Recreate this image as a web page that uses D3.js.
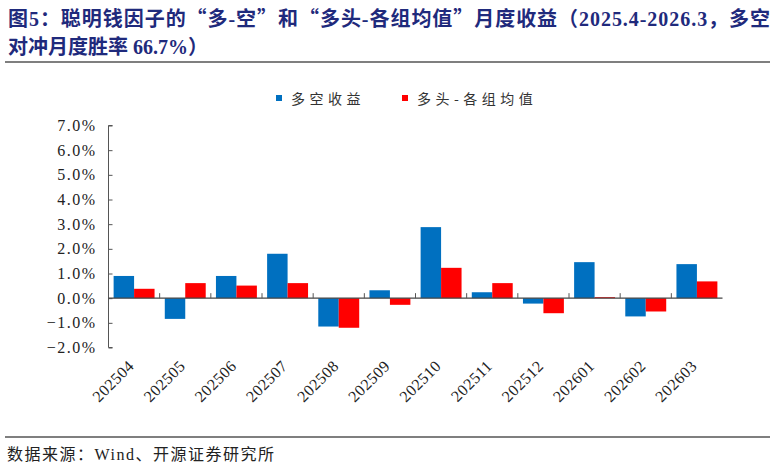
<!DOCTYPE html>
<html>
<head>
<meta charset="utf-8">
<script src="https://cdn.jsdelivr.net/npm/d3@7"></script>
<style>
  body { margin: 0; background: #fff; }
  svg { display: block; }
</style>
</head>
<body>
<svg id="chart"></svg>
<script>
const width = 774;
const height = 468;

const months = ["202504", "202505", "202506", "202507", "202508", "202509",
  "202510", "202511", "202512", "202601", "202602", "202603"];
const longShort = [0.90, -0.84, 0.90, 1.80, -1.15, 0.32, 2.88, 0.24, -0.22, 1.46, -0.74, 1.38];
const longAvg = [0.38, 0.61, 0.51, 0.61, -1.20, -0.27, 1.23, 0.61, -0.61, 0.04, -0.54, 0.68];
const seriesNames = ["多空收益", "多头-各组均值"];
const yTicks = [-2, -1, 0, 1, 2, 3, 4, 5, 6, 7];

const serif = "'Liberation Serif', 'Times New Roman', 'Noto Sans CJK SC', serif";
const cjk = "'Noto Sans CJK SC', 'Liberation Serif', sans-serif";

const svg = d3.select("#chart")
  .attr("width", width)
  .attr("height", height)
  .style("background", "#fff");

// title: serif text, but the curly quotes drawn full width with the CJK font
const titleColor = "#1f2a7c";
function titleLine(str, yPos, len) {
  const t = svg.append("text")
    .attr("x", 8).attr("y", yPos)
    .attr("fill", titleColor)
    .style("font-family", serif)
    .style("font-weight", "bold")
    .style("font-size", "20px");
  if (len) t.attr("textLength", len).attr("lengthAdjust", "spacing");
  str.split(/([“”])/).filter(s => s.length).forEach(s => {
    t.append("tspan")
      .style("font-family", /[“”]/.test(s) ? cjk : serif)
      .text(s);
  });
}
titleLine("图5：聪明钱因子的“多-空”和“多头-各组均值”月度收益（2025.4-2026.3，多空", 26, 762);
titleLine("对冲月度胜率 66.7%）", 54);

svg.append("line")
  .attr("x1", 5).attr("x2", 770)
  .attr("y1", 62).attr("y2", 62)
  .attr("stroke", "#555").attr("stroke-width", 1.5);

svg.append("line")
  .attr("x1", 5).attr("x2", 770)
  .attr("y1", 437).attr("y2", 437)
  .attr("stroke", "#555").attr("stroke-width", 1.5);

svg.append("text")
  .attr("x", 7).attr("y", 460)
  .attr("fill", "#222")
  .attr("textLength", 267)
  .attr("lengthAdjust", "spacing")
  .style("font-family", serif)
  .style("font-size", "16px")
  .text("数据来源：Wind、开源证券研究所");

// scales
const x = d3.scaleBand()
  .domain(months)
  .range([108.5, 722.5])
  .paddingInner(0)
  .paddingOuter(0);

const xSub = d3.scaleBand()
  .domain([0, 1])
  .range([0, x.bandwidth()])
  .paddingOuter(0.25)
  .paddingInner(0);

const y = d3.scaleLinear()
  .domain([-2, 7])
  .range([347.5, 125.5]);

const colors = ["#0070c0", "#ff0000"];

// legend
const legend = svg.append("g");
const legendX = [276, 402];
seriesNames.forEach((name, i) => {
  legend.append("rect")
    .attr("x", legendX[i]).attr("y", 95)
    .attr("width", 6).attr("height", 6)
    .attr("fill", colors[i]);
  legend.append("text")
    .attr("x", legendX[i] + 15).attr("y", 104)
    .attr("fill", "#333")
    .style("font-family", cjk)
    .style("font-size", "14px")
    .style("letter-spacing", "4.5px")
    .text(name);
});

// bars
const data = months.map((m, i) => ({ month: m, values: [longShort[i], longAvg[i]] }));

const groups = svg.append("g")
  .selectAll("g")
  .data(data)
  .join("g")
  .attr("transform", d => `translate(${x(d.month)},0)`);

groups.selectAll("rect")
  .data(d => d.values.map((v, k) => ({ k, v })))
  .join("rect")
  .attr("x", d => xSub(d.k))
  .attr("width", xSub.bandwidth())
  .attr("y", d => y(Math.max(0, d.v)))
  .attr("height", d => Math.abs(y(d.v) - y(0)))
  .attr("fill", d => colors[d.k]);

// y axis
const yAxis = d3.axisRight(y)
  .tickValues(yTicks)
  .tickSize(4)
  .tickFormat(d => d3.format(".1f")(d) + "%");

const yg = svg.append("g")
  .attr("transform", `translate(${x.range()[0]},0)`)
  .call(yAxis);
yg.select(".domain").attr("stroke", "#555").attr("d", `M4,${y(-2)}H0V${y(7)}H4`);
yg.selectAll(".tick line").attr("stroke", "#555");
yg.selectAll(".tick text")
  .attr("x", -12)
  .attr("text-anchor", "end")
  .attr("fill", "#222")
  .style("font-family", serif)
  .style("font-size", "16px")
  .style("letter-spacing", "1.5px");

// x axis at zero
const xg = svg.append("g")
  .attr("transform", `translate(0,${y(0)})`);
xg.append("line")
  .attr("x1", x.range()[0]).attr("x2", x.range()[1])
  .attr("stroke", "#444").attr("stroke-width", 1.2);
xg.selectAll(".sep")
  .data(months.slice(1))
  .join("line")
  .attr("class", "sep")
  .attr("x1", d => x(d)).attr("x2", d => x(d))
  .attr("y1", 0).attr("y2", -5)
  .attr("stroke", "#555");

// x labels, rotated
svg.append("g")
  .selectAll("text")
  .data(months)
  .join("text")
  .attr("transform", d => `translate(${x(d) + x.bandwidth() / 2 + 1},${367}) rotate(-45)`)
  .attr("text-anchor", "end")
  .attr("fill", "#222")
  .style("font-family", serif)
  .style("font-size", "16px")
  .style("letter-spacing", "0.5px")
  .text(d => d);
</script>
</body>
</html>
